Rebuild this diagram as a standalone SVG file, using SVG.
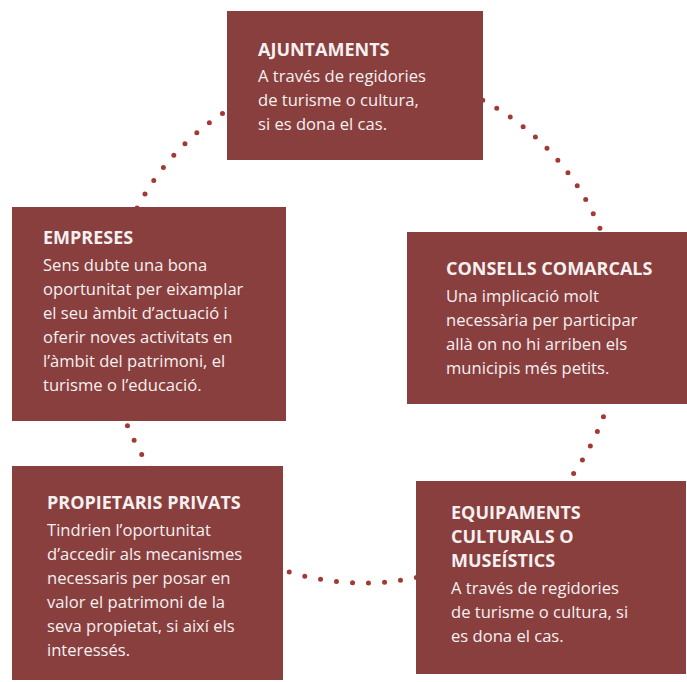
<svg xmlns="http://www.w3.org/2000/svg" width="687" height="682" viewBox="0 0 687 682">
<style>
.box{fill:#883f3e}
.t{font-family:"Open Sans","Noto Sans",sans-serif;fill:#f6f0f0}
.h{font-weight:700;font-size:18px}
.b{font-size:16.6px}
</style>
<rect width="687" height="682" fill="#ffffff"/>
<g id="connectors">
<circle cx="363.7" cy="327" r="256" fill="none" stroke="#a23a33" stroke-width="5" stroke-linecap="round" pathLength="100" stroke-dasharray="0 1" stroke-dashoffset="0.3"/>
</g>
<g id="ajuntaments">
<rect class="box" x="227" y="11" width="256" height="149"/>
<text class="t h" x="258" y="55.5">AJUNTAMENTS</text>
<text class="t b"><tspan x="258" y="82">A través de regidories</tspan><tspan x="258" y="106">de turisme o cultura,</tspan><tspan x="258" y="130">si es dona el cas.</tspan></text>
</g>
<g id="empreses">
<rect class="box" x="12" y="207" width="274" height="214"/>
<text class="t h" x="43" y="244">EMPRESES</text>
<text class="t b"><tspan x="43" y="271">Sens dubte una bona</tspan><tspan x="43" y="295">oportunitat per eixamplar</tspan><tspan x="43" y="319">el seu àmbit d’actuació i</tspan><tspan x="43" y="343">oferir noves activitats en</tspan><tspan x="43" y="367">l’àmbit del patrimoni, el</tspan><tspan x="43" y="391">turisme o l’educació.</tspan></text>
</g>
<g id="consells">
<rect class="box" x="407" y="232" width="280" height="172"/>
<text class="t h" x="446" y="275">CONSELLS COMARCALS</text>
<text class="t b"><tspan x="446" y="302">Una implicació molt</tspan><tspan x="446" y="326">necessària per participar</tspan><tspan x="446" y="350">allà on no hi arriben els</tspan><tspan x="446" y="374">municipis més petits.</tspan></text>
</g>
<g id="propietaris">
<rect class="box" x="12" y="466" width="271" height="214"/>
<text class="t h" x="47" y="509">PROPIETARIS PRIVATS</text>
<text class="t b"><tspan x="47" y="536">Tindrien l’oportunitat</tspan><tspan x="47" y="560">d’accedir als mecanismes</tspan><tspan x="47" y="584">necessaris per posar en</tspan><tspan x="47" y="608">valor el patrimoni de la</tspan><tspan x="47" y="632">seva propietat, si així els</tspan><tspan x="47" y="656">interessés.</tspan></text>
</g>
<g id="equipaments">
<rect class="box" x="416" y="481" width="270" height="193"/>
<text class="t h"><tspan x="451" y="519">EQUIPAMENTS</tspan><tspan x="451" y="543">CULTURALS O</tspan><tspan x="451" y="567">MUSEÍSTICS</tspan></text>
<text class="t b"><tspan x="451" y="594">A través de regidories</tspan><tspan x="451" y="618">de turisme o cultura, si</tspan><tspan x="451" y="642">es dona el cas.</tspan></text>
</g>
</svg>
